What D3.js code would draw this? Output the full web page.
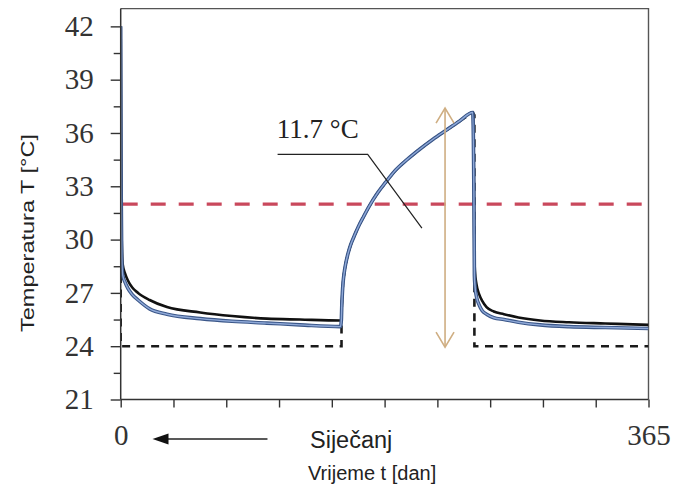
<!DOCTYPE html>
<html><head><meta charset="utf-8">
<script src="https://cdn.jsdelivr.net/npm/d3@7"></script>
<style>
html,body{margin:0;padding:0;background:#fff;}
svg{display:block;}
</style></head>
<body>
<script>
// ---- data ----
const yTicks = [21, 24, 27, 30, 33, 36, 39, 42];
const yMinorTicks = [22.5, 25.5, 28.5, 31.5, 34.5, 37.5, 40.5];
const xTicks = [0, 36.5, 73, 109.5, 146, 182.5, 219, 255.5, 292, 328.5, 365];
const xTickLabels = ["0", "", "", "", "", "", "", "", "", "", "365"];

const leftDays   = [0, 0.3, 0.7, 1.4, 3, 5, 8, 12, 20, 32, 55, 77, 101, 124, 152];
const leftBlack  = [42, 34, 30, 28.6, 28.1, 27.7, 27.3, 27.0, 26.6, 26.2, 25.9, 25.7, 25.55, 25.5, 25.45];
const leftBlue   = [42, 33, 29, 28.0, 27.6, 27.25, 26.9, 26.6, 26.1, 25.8, 25.55, 25.4, 25.3, 25.2, 25.1];

const riseDays   = [152.6, 152.9, 153.3, 153.8, 154.5, 155.5, 157, 159, 161.5, 164.5, 168, 172, 177, 183, 190, 198, 207, 216, 225, 234, 243.5];
const riseTemp   = [25.5, 26.3, 27.0, 27.6, 28.1, 28.6, 29.15, 29.7, 30.2, 30.75, 31.3, 31.9, 32.55, 33.2, 33.9, 34.5, 35.1, 35.65, 36.15, 36.65, 37.15];

const rightDays  = [244.3, 244.6, 245, 246, 248, 250, 253, 258, 265, 275, 290, 310, 335, 365];
const rightBlack = [33, 29, 28.2, 27.5, 26.9, 26.55, 26.2, 25.95, 25.8, 25.62, 25.45, 25.35, 25.28, 25.2];
const rightBlue  = [32, 28, 27.4, 26.8, 26.3, 26.0, 25.8, 25.6, 25.5, 25.35, 25.2, 25.1, 25.05, 25.0];

const setDays    = [0, 0, 152.7, 152.7];
const setTemp    = [28, 24, 24, 25.6];
const setDays2   = [244.6, 244.6, 365];
const setTemp2   = [37.0, 24, 24];

const limitTemp = 32;
const arrowDay = 224.3, arrowTop = 37.4, arrowBottom = 23.95;
const annText = "11.7 °C";
const annTextPos = [108, 35.7];
const leaderPts = [[108.5, 34.8], [170.8, 34.8], [208.3, 30.65]];
const xArrow = [22, 101.5];
const xArrowLabel = "Siječanj";
const xLabel = "Vrijeme t [dan]";
const yLabel = "Temperatura T [°C]";

// ---- layout ----
const W = 676, H = 490;
const x = d3.scaleLinear().domain([0, 365]).range([120.7, 648.5]);
const y = d3.scaleLinear().domain([21, 43]).range([399.5, 8.6]);

const svg = d3.select("body").append("svg").attr("width", W).attr("height", H);

svg.append("defs").append("clipPath").attr("id", "clip")
  .append("rect").attr("x", x(0)).attr("y", y(43)).attr("width", x(365) - x(0)).attr("height", y(21) - y(43));

// frame top/right
svg.append("path")
  .attr("d", `M${x(0)},${y(43)}H${x(365)}V${y(21)}`)
  .attr("fill", "none").attr("stroke", "#555").attr("stroke-width", 1.4);

const plot = svg.append("g").attr("clip-path", "url(#clip)");

const line = d3.line().x(d => x(d[0])).y(d => y(d[1])).curve(d3.curveMonotoneX);
const lin = d3.line().x(d => x(d[0])).y(d => y(d[1]));

// red limit line
plot.append("path").attr("d", lin([[0, limitTemp], [365, limitTemp]]))
  .attr("stroke", "#c9485c").attr("stroke-width", 3.2).attr("stroke-dasharray", "15,13")
  .attr("fill", "none").attr("stroke-dashoffset", -2);

// dashed black series
const dashPts = setDays.map((d, i) => [d, setTemp[i]])
  .concat(riseDays.map((d, i) => [d, riseTemp[i]]))
  .concat(setDays2.map((d, i) => [d, setTemp2[i]]));
plot.append("path").attr("d", lin(dashPts))
  .attr("stroke", "#1a1a1a").attr("stroke-width", 2.6).attr("stroke-dasharray", "8,6.5")
  .attr("fill", "none");

// black and blue curves
const blackPts = leftDays.map((d, i) => [d, leftBlack[i]])
  .concat(riseDays.map((d, i) => [d, riseTemp[i]]))
  .concat(rightDays.map((d, i) => [d, rightBlack[i]]));
const bluePts = leftDays.map((d, i) => [d, leftBlue[i]])
  .concat(riseDays.map((d, i) => [d, riseTemp[i]]))
  .concat(rightDays.map((d, i) => [d, rightBlue[i]]));

plot.append("path").attr("d", line(blackPts))
  .attr("stroke", "#111").attr("stroke-width", 2.6).attr("fill", "none");
plot.append("path").attr("d", line(bluePts))
  .attr("stroke", "#3b5789").attr("stroke-width", 3.6).attr("fill", "none");
plot.append("path").attr("d", line(bluePts))
  .attr("stroke", "#8fa9d8").attr("stroke-width", 1.4).attr("fill", "none");

// tan double arrow
const ax = x(arrowDay), at = y(arrowTop), ab = y(arrowBottom);
const tan = "#cfae82";
svg.append("line").attr("x1", ax).attr("x2", ax).attr("y1", at).attr("y2", ab)
  .attr("stroke", tan).attr("stroke-width", 1.6);
svg.append("path").attr("d", `M${ax - 9},${at + 15}L${ax},${at}L${ax + 9},${at + 15}`)
  .attr("stroke", tan).attr("stroke-width", 1.6).attr("fill", "none");
svg.append("path").attr("d", `M${ax - 9},${ab - 15}L${ax},${ab}L${ax + 9},${ab - 15}`)
  .attr("stroke", tan).attr("stroke-width", 1.6).attr("fill", "none");

// annotation
svg.append("path").attr("d", lin(leaderPts))
  .attr("stroke", "#222").attr("stroke-width", 1.2).attr("fill", "none");
svg.append("text").attr("x", x(annTextPos[0])).attr("y", y(annTextPos[1]))
  .attr("font-family", "'Liberation Serif','Times New Roman',serif").attr("font-size", 27)
  .attr("fill", "#222").text(annText);

// axes
const yAxis = svg.append("g").attr("transform", `translate(${x(0)},0)`)
  .call(d3.axisLeft(y).tickValues(yTicks).tickSize(10).tickPadding(17).tickFormat(d3.format("d")));
yAxis.select(".domain").attr("d", `M0,${y(43)}V${y(21)}`);
svg.append("g").attr("transform", `translate(${x(0)},0)`)
  .call(d3.axisLeft(y).tickValues(yMinorTicks).tickSize(7).tickFormat(""))
  .select(".domain").remove();

const xAxis = svg.append("g").attr("transform", `translate(0,${y(21)})`)
  .call(d3.axisBottom(x).tickValues(xTicks).tickSize(8).tickPadding(17)
    .tickFormat((d, i) => xTickLabels[i]));
xAxis.select(".domain").attr("d", `M${x(0)},0H${x(365)}`);

svg.selectAll(".domain").attr("stroke", "#333").attr("stroke-width", 1.5);
svg.selectAll(".tick line").attr("stroke", "#333").attr("stroke-width", 1.4);
svg.selectAll(".tick text")
  .attr("font-family", "'Liberation Serif','Times New Roman',serif")
  .attr("font-size", 29).attr("fill", "#333");

// January arrow below axis
const arrY = 439;
svg.append("line").attr("x1", x(xArrow[0]) + 12).attr("x2", x(xArrow[1]))
  .attr("y1", arrY).attr("y2", arrY).attr("stroke", "#222").attr("stroke-width", 1.4);
svg.append("path")
  .attr("d", `M${x(xArrow[0])},${arrY}L${x(xArrow[0]) + 16},${arrY - 5.5}L${x(xArrow[0]) + 16},${arrY + 5.5}Z`)
  .attr("fill", "#111");

svg.append("text").attr("x", 310).attr("y", 448)
  .attr("font-family", "'Liberation Sans',Arial,sans-serif").attr("font-size", 23.5)
  .attr("fill", "#222").text(xArrowLabel);
svg.append("text").attr("x", 308).attr("y", 480)
  .attr("font-family", "'Liberation Sans',Arial,sans-serif").attr("font-size", 20)
  .attr("fill", "#222").text(xLabel);

svg.append("text")
  .attr("transform", `translate(34,233) rotate(-90)`)
  .attr("text-anchor", "middle")
  .attr("font-family", "'Liberation Sans',Arial,sans-serif").attr("font-size", 19)
  .attr("textLength", 198).attr("lengthAdjust", "spacingAndGlyphs")
  .attr("fill", "#222").text(yLabel);
</script>
</body></html>
